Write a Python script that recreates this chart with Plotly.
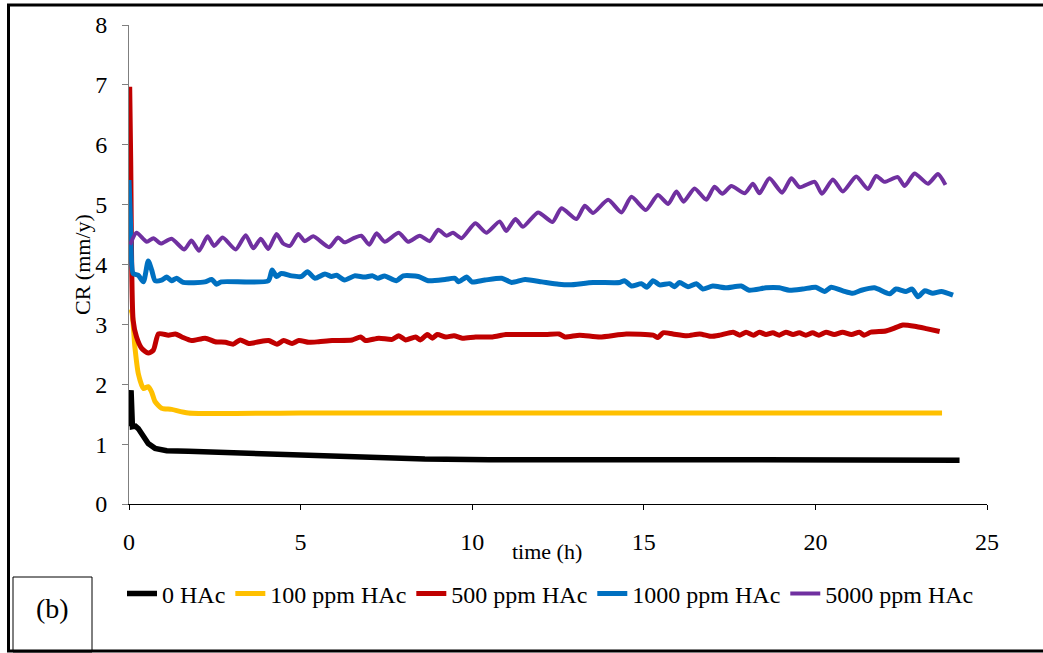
import plotly.graph_objects as go

# ---- data (time in h, CR in mm/y) ----
t_0 = [0.0, 0.06, 0.10, 0.19, 0.27, 0.42, 0.56, 0.76, 1.10, 1.73, 2.80, 4.2, 5.71, 7.2, 8.62, 10.5, 12.70, 15.5, 18.37, 21.0, 24.2]
cr_0 = [1.30, 1.90, 1.29, 1.30, 1.26, 1.12, 1.01, 0.93, 0.89, 0.88, 0.86, 0.82, 0.79, 0.77, 0.75, 0.74, 0.73, 0.74, 0.74, 0.74, 0.73]

t_100 = [0.02, 0.08, 0.17, 0.27, 0.42, 0.56, 0.66, 0.76, 0.95, 1.24, 1.73, 5.0, 10.0, 15.0, 20.0, 23.69]
cr_100 = [3.25, 3.21, 2.63, 2.18, 1.93, 1.96, 1.87, 1.71, 1.60, 1.58, 1.52, 1.52, 1.52, 1.52, 1.52, 1.52]

t_500 = [0.02, 0.05, 0.12, 0.22, 0.37, 0.56, 0.71, 0.86, 1.15, 1.35, 1.54, 1.83, 2.22, 2.51, 2.81, 3.04, 3.24, 3.49,
         3.78, 4.07, 4.31, 4.51, 4.75, 4.95, 5.24, 5.53, 5.92, 6.50, 6.75, 6.89, 7.28, 7.67, 7.86, 8.06, 8.35, 8.49,
         8.69, 8.84, 8.98, 9.23, 9.47, 9.71, 10.10, 10.59, 10.98, 11.56, 12.14, 12.53, 12.70, 13.13, 13.72, 14.49,
         15.27, 15.41, 15.56, 15.85, 16.25, 16.63, 16.95, 17.21, 17.60, 17.80, 17.98, 18.20, 18.37, 18.56, 18.76,
         18.95, 19.14, 19.35, 19.53, 19.72, 19.92, 20.10, 20.31, 20.55, 20.79, 21.05, 21.28, 21.42, 21.62, 22.05,
         22.26, 22.55, 22.89, 23.23, 23.62]
cr_500 = [6.97, 5.70, 3.07, 2.79, 2.60, 2.52, 2.57, 2.84, 2.82, 2.84, 2.79, 2.73, 2.77, 2.71, 2.70, 2.67, 2.74, 2.68,
          2.71, 2.73, 2.67, 2.73, 2.68, 2.73, 2.70, 2.71, 2.73, 2.74, 2.79, 2.73, 2.77, 2.75, 2.81, 2.74, 2.79, 2.74,
          2.83, 2.77, 2.83, 2.79, 2.81, 2.77, 2.79, 2.79, 2.83, 2.83, 2.83, 2.84, 2.79, 2.82, 2.79, 2.84,
          2.82, 2.78, 2.86, 2.84, 2.81, 2.84, 2.80, 2.82, 2.87, 2.82, 2.87, 2.82, 2.87, 2.83, 2.86,
          2.82, 2.87, 2.83, 2.86, 2.82, 2.86, 2.82, 2.87, 2.83, 2.87, 2.83, 2.87, 2.82, 2.87, 2.89,
          2.93, 2.99, 2.97, 2.93, 2.88]

t_1000 = [0.0, 0.05, 0.12, 0.27, 0.42, 0.56, 0.66, 0.76, 0.95, 1.10, 1.24, 1.39, 1.58, 2.21, 2.41, 2.55, 2.69, 4.06,
          4.17, 4.30, 4.44, 4.74, 5.03, 5.20, 5.42, 5.71, 5.90, 6.05, 6.28, 6.57, 6.86, 7.10, 7.25, 7.45, 7.79, 7.99,
          8.43, 8.72, 9.21, 9.50, 9.60, 9.84, 9.99, 10.37, 10.86, 11.15, 11.54, 12.03, 12.52, 12.84, 13.52, 14.30,
          14.44, 14.64, 14.93, 15.09, 15.27, 15.46, 15.75, 15.90, 16.04, 16.29, 16.53, 16.72, 17.01, 17.40, 17.84,
          18.07, 18.56, 18.95, 19.24, 19.63, 20.01, 20.27, 20.46, 20.80, 21.09, 21.34, 21.72, 22.16, 22.35, 22.64,
          22.82, 22.99, 23.18, 23.42, 23.67, 24.01]
cr_1000 = [5.41, 4.60, 3.85, 3.82, 3.71, 4.06, 3.91, 3.73, 3.74, 3.79, 3.73, 3.77, 3.70, 3.71, 3.75, 3.67, 3.71, 3.73,
           3.91, 3.80, 3.85, 3.81, 3.80, 3.88, 3.77, 3.84, 3.80, 3.82, 3.74, 3.81, 3.79, 3.81, 3.77, 3.81, 3.73, 3.81,
           3.80, 3.73, 3.75, 3.77, 3.71, 3.79, 3.71, 3.74, 3.77, 3.70, 3.75, 3.71, 3.67, 3.66, 3.70, 3.70,
           3.73, 3.64, 3.68, 3.62, 3.73, 3.66, 3.68, 3.63, 3.70, 3.63, 3.68, 3.59, 3.64, 3.61, 3.64,
           3.57, 3.61, 3.61, 3.57, 3.59, 3.62, 3.55, 3.62, 3.56, 3.52, 3.57, 3.61, 3.51, 3.59, 3.55,
           3.59, 3.46, 3.56, 3.52, 3.55, 3.49]

t_5000 = [0.03, 0.22, 0.52, 0.71, 0.93, 1.24, 1.61, 1.82, 2.04, 2.29, 2.48, 2.73, 3.11, 3.40, 3.62, 3.84, 4.06, 4.30,
          4.49, 4.69, 4.93, 5.12, 5.37, 5.83, 6.09, 6.28, 6.58, 6.77, 7.00, 7.21, 7.45, 7.86, 8.13, 8.47, 8.76, 9.01,
          9.25, 9.44, 9.69, 10.09, 10.41, 10.80, 10.99, 11.26, 11.48, 11.92, 12.34, 12.60, 13.04, 13.28, 13.52, 13.96,
          14.35, 14.64, 15.06, 15.41, 15.71, 15.95, 16.16, 16.48, 16.82, 17.06, 17.29, 17.55, 17.94, 18.18, 18.37,
          18.66, 19.03, 19.30, 19.54, 19.98, 20.19, 20.51, 20.80, 21.19, 21.53, 21.77, 22.01, 22.40, 22.60, 22.89,
          23.28, 23.57, 23.79]
cr_5000 = [4.33, 4.53, 4.38, 4.44, 4.35, 4.43, 4.25, 4.40, 4.23, 4.47, 4.31, 4.45, 4.25, 4.49, 4.27, 4.43, 4.26, 4.51,
           4.35, 4.31, 4.51, 4.39, 4.47, 4.29, 4.45, 4.37, 4.45, 4.48, 4.33, 4.52, 4.38, 4.53, 4.38, 4.48, 4.39, 4.58,
           4.48, 4.53, 4.44, 4.69, 4.53, 4.72, 4.56, 4.76, 4.63, 4.87, 4.71, 4.94, 4.76, 4.98, 4.86, 5.08,
           4.87, 5.13, 4.91, 5.16, 5.01, 5.22, 5.05, 5.27, 5.08, 5.30, 5.18, 5.31, 5.19, 5.35, 5.19,
           5.44, 5.20, 5.44, 5.29, 5.38, 5.18, 5.42, 5.22, 5.47, 5.26, 5.48, 5.38, 5.46, 5.31, 5.52,
           5.35, 5.51, 5.33]

names = ["0 HAc", "100 ppm HAc", "500 ppm HAc", "1000 ppm HAc", "5000 ppm HAc"]
colors = ["#000000", "#FFC000", "#C00000", "#0070C0", "#7030A0"]
widths = [5.5, 5, 5, 5, 4]
x_ticks = [0, 5, 10, 15, 20, 25]
y_ticks = [0, 1, 2, 3, 4, 5, 6, 7, 8]

series = [(t_0, cr_0), (t_100, cr_100), (t_500, cr_500), (t_1000, cr_1000), (t_5000, cr_5000)]
shapes_kind = ["linear", "spline", "spline", "spline", "spline"]

FONT = "Liberation Serif"
W, H = 1043, 653
L, R, T, B = 129, 56, 25, 149
PW, PH = W - L - R, H - T - B


def px(x):
    return (x - L) / PW


def py(y):
    return (H - B - y) / PH


fig = go.Figure()
for (tx, cy), nm, col, lw, sk in zip(series, names, colors, widths, shapes_kind):
    fig.add_trace(go.Scatter(x=tx, y=cy, mode="lines", name=nm,
                             line=dict(color=col, width=lw, shape=sk, smoothing=0.6 if sk == "spline" else None)))

fig.update_layout(
    width=W, height=H,
    margin=dict(l=L, r=R, t=T, b=B),
    paper_bgcolor="white", plot_bgcolor="white",
    font=dict(family=FONT, size=24, color="black"),
    showlegend=True,
    legend=dict(orientation="h", x=px(122), y=py(594), xanchor="left", yanchor="middle",
                font=dict(family=FONT, size=24, color="black"), bgcolor="rgba(0,0,0,0)",
                itemwidth=30, tracegroupgap=0),
    xaxis=dict(range=[0, 25], tickvals=x_ticks, ticktext=[str(v) for v in x_ticks],
               showgrid=False, zeroline=False, showline=True, linecolor="black", linewidth=1,
               ticks="outside", ticklen=5, tickcolor="black", tickwidth=1,
               tickfont=dict(family=FONT, size=24), ticklabelstandoff=11),
    yaxis=dict(range=[0, 8], tickvals=y_ticks, ticktext=[str(v) for v in y_ticks],
               showgrid=False, zeroline=False, showline=True, linecolor="#7f7f7f", linewidth=1,
               ticks="outside", ticklen=6, tickcolor="#7f7f7f", tickwidth=1,
               tickfont=dict(family=FONT, size=24), ticklabelstandoff=10),
)

# axis titles
fig.add_annotation(text="time (h)", xref="paper", yref="paper", x=px(547), y=py(551),
                   xanchor="center", yanchor="middle", showarrow=False,
                   font=dict(family=FONT, size=22, color="black"))
fig.add_annotation(text="CR (mm/y)", xref="paper", yref="paper", x=px(82), y=py(265),
                   xanchor="center", yanchor="middle", showarrow=False, textangle=-90,
                   font=dict(family=FONT, size=22, color="black"))

# panel label box
fig.add_shape(type="rect", xref="paper", yref="paper", x0=px(13), x1=px(92), y0=py(652), y1=py(577),
              line=dict(color="black", width=1))
fig.add_annotation(text="(b)", xref="paper", yref="paper", x=px(52.5), y=py(608),
                   xanchor="center", yanchor="middle", showarrow=False,
                   font=dict(family=FONT, size=28, color="black"))

# outer frame (left, top, bottom)
fig.add_shape(type="path", xref="paper", yref="paper",
              path=f"M {px(1060)} {py(5)} L {px(8.5)} {py(5)} L {px(8.5)} {py(651)} L {px(1060)} {py(651)}",
              line=dict(color="black", width=3))

fig.write_html("out.html")
